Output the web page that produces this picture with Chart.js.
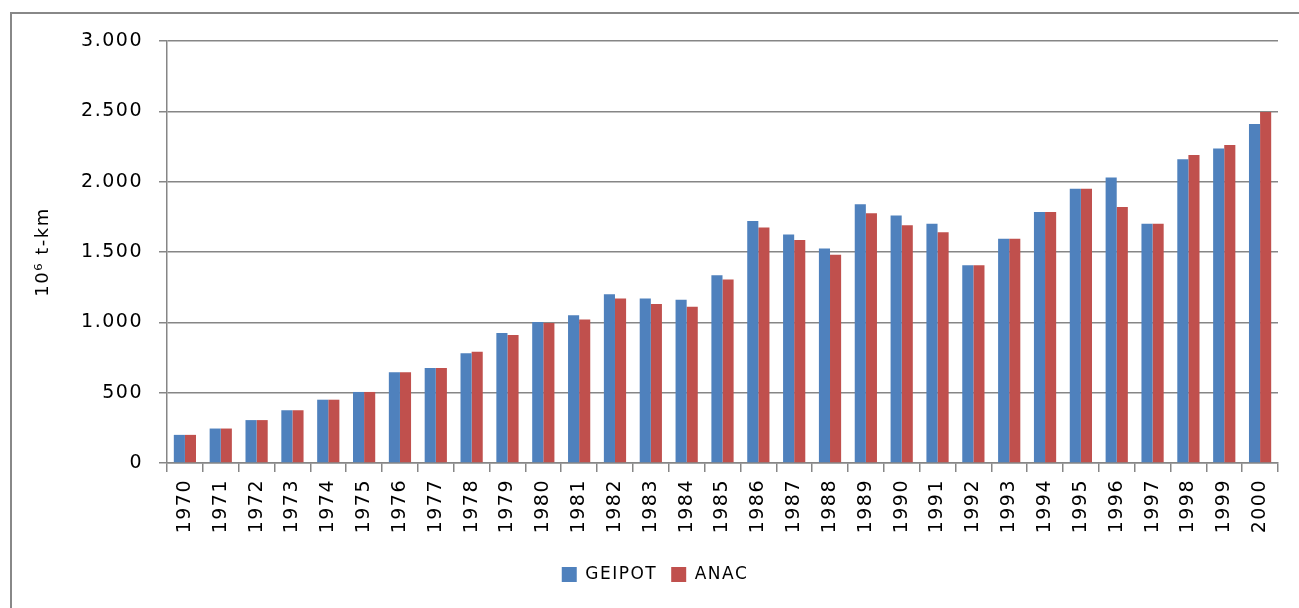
<!DOCTYPE html>
<html>
<head>
<meta charset="utf-8">
<script src="https://cdn.jsdelivr.net/npm/chart.js@4/dist/chart.umd.min.js"></script>
<style>
  html, body { margin: 0; padding: 0; background: #fff; overflow: hidden; }
  #frame { position: absolute; left: 10px; top: 12px; width: 1400px; height: 700px;
           border-left: 2px solid #888; border-top: 2px solid #888; }
  #wrap { position: absolute; left: 0; top: 0; width: 1299px; height: 608px; }
</style>
</head>
<body>
<div id="frame"></div>
<div id="wrap"><canvas id="c" width="1299" height="608"></canvas></div>
<script>
// Air freight transport, million tonne-km, by year
const years = ['1970','1971','1972','1973','1974','1975','1976','1977','1978','1979',
  '1980','1981','1982','1983','1984','1985','1986','1987','1988','1989',
  '1990','1991','1992','1993','1994','1995','1996','1997','1998','1999','2000'];
const geipot = [200, 245, 305, 375, 450, 505, 645, 675, 780, 925,
  1003, 1050, 1200, 1170, 1160, 1335, 1720, 1625, 1525, 1840,
  1760, 1700, 1405, 1595, 1785, 1950, 2030, 1700, 2160, 2235, 2410];
const anac = [200, 245, 305, 375, 450, 505, 645, 675, 790, 910,
  995, 1020, 1170, 1130, 1110, 1305, 1675, 1585, 1480, 1775,
  1690, 1640, 1405, 1595, 1785, 1950, 1820, 1700, 2190, 2260, 2495];
const yTicks = { min: 0, max: 3000, step: 500 };
const seriesNames = ['GEIPOT', 'ANAC'];
const yTitle = '10\u2076 t-km';

const BLUE = '#4F81BD', RED = '#C0504D', GRID = '#868686';
const FONT = 'DejaVu Sans';

// thousands separator as "."
function fmt(v) { return String(v).replace(/\B(?=(\d{3})+(?!\d))/g, '.'); }

// slightly wider letter spacing for all chart text
const spacing = {
  id: 'spacing',
  beforeLayout(chart) { chart.ctx.letterSpacing = '1.5px'; },
  beforeDraw(chart) { chart.ctx.letterSpacing = '1.5px'; }
};

// centre the legend under the whole frame rather than the padded box
const legendShift = {
  id: 'legendShift',
  afterLayout(chart) {
    if (chart.legend) { chart.legend.left += 11; chart.legend.right += 11; }
  }
};

new Chart(document.getElementById('c'), {
  type: 'bar',
  data: {
    labels: years,
    datasets: [
      { label: seriesNames[0], data: geipot, backgroundColor: BLUE, borderWidth: 0,
        categoryPercentage: 0.62, barPercentage: 1.0 },
      { label: seriesNames[1], data: anac, backgroundColor: RED, borderWidth: 0,
        categoryPercentage: 0.62, barPercentage: 1.0 }
    ]
  },
  options: {
    responsive: false,
    animation: false,
    devicePixelRatio: 1,
    layout: { padding: { left: 10, right: 21, top: 41, bottom: 15 } },
    plugins: {
      tooltip: { enabled: false },
      legend: {
        position: 'bottom',
        labels: {
          color: '#000',
          font: { family: FONT, size: 17 },
          boxWidth: 15, boxHeight: 15, padding: 14
        }
      }
    },
    scales: {
      x: {
        grid: { display: true, drawOnChartArea: false, drawTicks: true, tickLength: 9,
                color: GRID, lineWidth: 1.5, offset: true },
        border: { display: true, color: GRID, width: 1.5 },
        ticks: { color: '#000', font: { family: FONT, size: 19 }, padding: 7,
                 minRotation: 90, maxRotation: 90, autoSkip: false },
        afterFit(scale) { scale.height = 89; }
      },
      y: {
        min: yTicks.min, max: yTicks.max,
        grid: { color: GRID, lineWidth: 1.5, tickLength: 8, drawTicks: true },
        border: { display: true, color: GRID, width: 1.5 },
        ticks: { stepSize: yTicks.step, color: '#000', font: { family: FONT, size: 19 },
                 padding: 16, callback: v => fmt(v) },
        title: { display: true, text: yTitle, color: '#000',
                 font: { family: FONT, size: 18 }, padding: { top: 23, bottom: 0 } },
        afterFit(scale) { scale.width = 157; }
      }
    }
  },
  plugins: [spacing, legendShift]
});
</script>
</body>
</html>
